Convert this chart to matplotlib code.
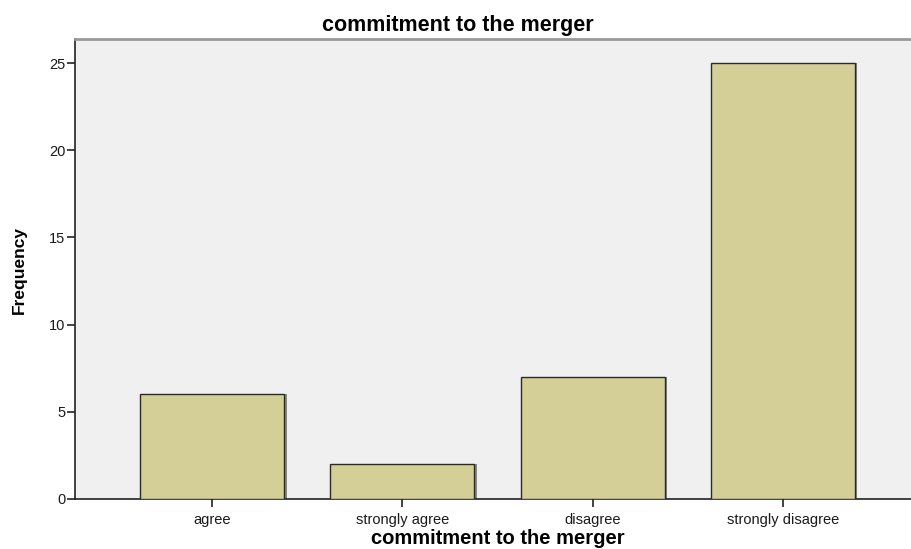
import matplotlib
matplotlib.use("Agg")
import matplotlib.pyplot as plt

categories = ["agree", "strongly agree", "disagree", "strongly disagree"]
frequencies = [6, 2, 7, 25]
yticks = [0, 5, 10, 15, 20, 25]

plt.rcParams['font.family'] = ['Liberation Sans', 'DejaVu Sans']

fig = plt.figure(figsize=(9.11, 5.49), dpi=100)
ax = fig.add_axes([75/911, 50/549, 845/911, 460/549])
ax.set_facecolor('#f0f0f0')

x = list(range(len(categories)))
# shadow
ax.bar([i + 0.012 for i in x], frequencies, width=0.758, color='#8a8a7a', zorder=2)
ax.bar(x, frequencies, width=0.758, color='#d3cf97', edgecolor='#2a2a2a', linewidth=1.0, zorder=3)

ax.set_xlim(-0.721, 3.721)
ax.set_ylim(0, 26.38)
ax.set_yticks(yticks)
ax.set_yticklabels([str(v) for v in yticks], fontsize=10.5)
ax.set_xticks(x)
ax.set_xticklabels(categories, fontsize=10.5)
ax.tick_params(axis='both', direction='out', length=6, width=1.2, color='#222222', labelcolor='#1a1a1a')
ax.tick_params(axis='x', pad=4)
ax.tick_params(axis='y', pad=1)

for s in ['left', 'bottom']:
    ax.spines[s].set_color('#222222')
    ax.spines[s].set_linewidth(1.2)
ax.spines['top'].set_color('#999999')
ax.spines['top'].set_linewidth(2)
ax.spines['right'].set_visible(False)

fig.text(458/911, 1 - 25/549, "commitment to the merger", ha='center', va='center',
         fontsize=15.5, fontweight='bold')
fig.text(498/911, 1 - 538/549, "commitment to the merger", ha='center', va='center',
         fontsize=14.5, fontweight='bold')
fig.text(19/911, 1 - 270/549, "Frequency", ha='center', va='center', rotation=90,
         fontsize=12.5, fontweight='bold')

fig.savefig("out.png", dpi=100)
